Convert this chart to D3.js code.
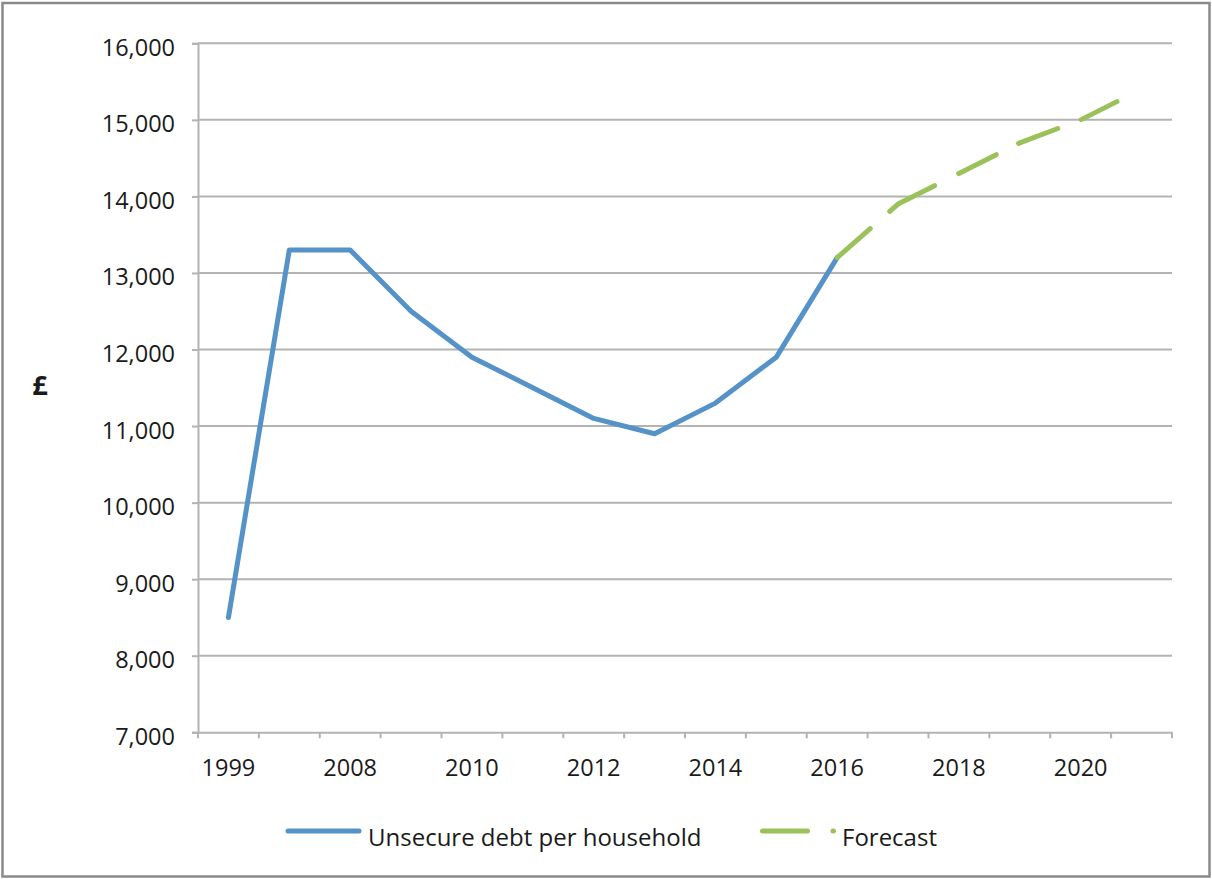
<!DOCTYPE html>
<html>
<head>
<meta charset="utf-8">
<script src="https://cdn.jsdelivr.net/npm/d3@7"></script>
<style>
  html, body { margin: 0; padding: 0; background: #fff; }
  svg { display: block; }
  text { font-family: "Open Sans", "Noto Sans", sans-serif; fill: #1a1a1a; }
</style>
</head>
<body>
<svg id="chart" width="1212" height="879"></svg>
<script>
// ---- data ----
const categories = ["1999","2007","2008","2009","2010","2011","2012","2013","2014","2015","2016","2017","2018","2019","2020","2021"];
const debtYears = ["1999","2007","2008","2009","2010","2011","2012","2013","2014","2015","2016"];
const debtValues = [8500, 13300, 13300, 12500, 11900, 11500, 11100, 10900, 11300, 11900, 13200];
const forecastYears = ["2016","2017","2018","2019","2020","2021"];
const forecastValues = [13200, 13900, 14300, 14700, 15000, 15400];
const yTicks = [7000, 8000, 9000, 10000, 11000, 12000, 13000, 14000, 15000, 16000];
const xLabelYears = ["1999","2008","2010","2012","2014","2016","2018","2020"];
const seriesNames = ["Unsecure debt per household", "Forecast"];

// ---- layout ----
(function () {
const svg = d3.select("#chart");
const W = 1212, H = 879;
const mLeft = 198, mRight = 1172, mTop = 43.3, mBottom = 732.3;
const gridColor = "#b3b3b3";
const blue = "#5592c8", green = "#9bc25a";

svg.append("rect").attr("x", 0).attr("y", 0).attr("width", W).attr("height", H).attr("fill", "#fff");
svg.append("rect").attr("x", 2.5).attr("y", 3).attr("width", 1207).attr("height", 873.5)
  .attr("fill", "none").attr("stroke", "#8a8a8a").attr("stroke-width", 2.5);

const x = d3.scaleBand().domain(categories).range([mLeft, mRight]).padding(0);
const y = d3.scaleLinear().domain([7000, 16000]).range([mBottom, mTop]);
const cx = d => x(d) + x.bandwidth() / 2;

// gridlines
svg.append("g").selectAll("line").data(yTicks.filter(t => t > 7000)).join("line")
  .attr("x1", mLeft).attr("x2", mRight)
  .attr("y1", d => y(d)).attr("y2", d => y(d))
  .attr("stroke", gridColor).attr("stroke-width", 2);

// y axis
const yAxis = svg.append("g").attr("transform", `translate(${mLeft},0)`)
  .call(d3.axisLeft(y).tickValues(yTicks).tickSize(6).tickPadding(17).tickFormat(d3.format(",")));
yAxis.select(".domain").attr("stroke", gridColor).attr("stroke-width", 2);
yAxis.selectAll(".tick line").attr("stroke", gridColor).attr("stroke-width", 2);
yAxis.selectAll(".tick text").attr("font-size", 23.5).attr("dy", null).attr("y", 12)
  .style("font-family", "'Open Sans', sans-serif").attr("fill", "#1a1a1a");

// x axis
const xAxis = svg.append("g").attr("transform", `translate(0,${mBottom})`)
  .call(d3.axisBottom(x).tickValues(xLabelYears).tickSize(0).tickPadding(0));
xAxis.select(".domain").attr("stroke", gridColor).attr("stroke-width", 2);
xAxis.selectAll(".tick text").attr("font-size", 23.5).attr("dy", null).attr("y", 44)
  .style("font-family", "'Open Sans', sans-serif").attr("fill", "#1a1a1a");
// category boundary ticks
const boundaries = categories.map(c => x(c)).concat([x(categories[categories.length - 1]) + x.bandwidth()]);
svg.append("g").selectAll("line").data(boundaries).join("line")
  .attr("x1", d => d).attr("x2", d => d)
  .attr("y1", mBottom).attr("y2", mBottom + 6)
  .attr("stroke", gridColor).attr("stroke-width", 2);

// y axis title
svg.append("text").attr("x", 40).attr("y", 395).attr("text-anchor", "middle")
  .attr("font-size", 27).attr("font-weight", "bold").text("£");

// lines
const line = d3.line().x(d => cx(d[0])).y(d => y(d[1]));
svg.append("path").datum(debtYears.map((d, i) => [d, debtValues[i]]))
  .attr("d", line).attr("fill", "none").attr("stroke", blue).attr("stroke-width", 5)
  .attr("stroke-linejoin", "round").attr("stroke-linecap", "round");
svg.append("path").datum(forecastYears.map((d, i) => [d, forecastValues[i]]))
  .attr("d", line).attr("fill", "none").attr("stroke", green).attr("stroke-width", 5)
  .attr("stroke-linejoin", "round").attr("stroke-linecap", "round")
  .attr("stroke-dasharray", "44,26,52,27,42,25,42,25,40,60");

// legend
const legY = 831;
svg.append("line").attr("x1", 288).attr("x2", 359).attr("y1", legY).attr("y2", legY)
  .attr("stroke", blue).attr("stroke-width", 5).attr("stroke-linecap", "round");
svg.append("text").attr("x", 368).attr("y", 846).attr("font-size", 24).text(seriesNames[0]);
svg.append("line").attr("x1", 762.5).attr("x2", 833.5).attr("y1", legY).attr("y2", legY)
  .attr("stroke", green).attr("stroke-width", 5).attr("stroke-linecap", "round")
  .attr("stroke-dasharray", "45,25.5");
svg.append("text").attr("x", 842).attr("y", 846).attr("font-size", 24).text(seriesNames[1]);
})();
</script>
</body>
</html>
